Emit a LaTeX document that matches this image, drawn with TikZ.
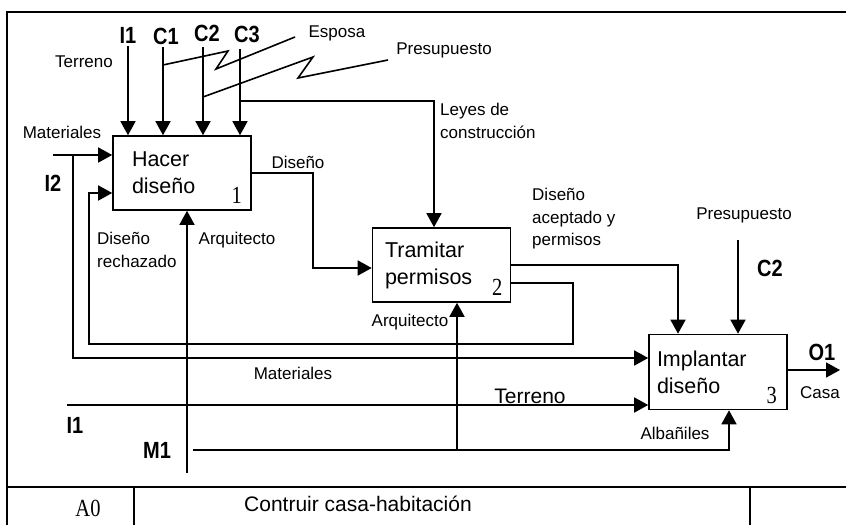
\documentclass[tikz,border=0pt]{standalone}
\usepackage{fontspec}
\usepackage{graphicx}
\setmainfont{Liberation Sans}
\newfontfamily\numfont{Liberation Serif}
\usetikzlibrary{arrows.meta}

% tall glyphs, as in the original drawing
\newcommand{\tallcode}[1]{\scalebox{1}[1.17]{#1}}
\newcommand{\tallnum}[1]{\scalebox{1}[1.2]{#1}}

\tikzset{
  flow/.style={line width=1.6pt, -{Triangle[length=14pt,width=15pt]}},
  wire/.style={line width=1.6pt},
  frameline/.style={line width=1.8pt},
  actbox/.style={draw, line width=1.6pt, minimum width=138pt, minimum height=74pt,
    text width=100pt, align=left, inner sep=0pt, font=\fontsize{21.5}{27}\selectfont},
  numtxt/.style={font=\numfont\fontsize{20.5}{22}\selectfont, inner sep=0pt},
  lbl/.style={font=\fontsize{17}{22.5}\selectfont, inner sep=0pt, align=left},
  code/.style={font=\bfseries\fontsize{20}{22}\selectfont, inner sep=0pt},
}

\begin{document}
\begin{tikzpicture}[x=1pt,y=-1pt]
\useasboundingbox (0,0) rectangle (846,525);

% Frame and title block
\draw[frameline] (7,525) -- (7,12) -- (846,12);
\draw[frameline] (7,487) -- (846,487);
\draw[frameline] (134,487) -- (134,525);
\draw[frameline] (750,487) -- (750,525);
\node[numtxt] (nodeid) at (88,508) {\tallnum{A0}};
\node[font=\fontsize{21}{24}\selectfont, inner sep=0pt] (title) at (358,504) {Contruir casa-habitación};

% Activity boxes
\node[actbox] (hacer) at (182,173) {Hacer\\diseño};
\node[actbox, text width=113pt] (tramitar) at (441.5,265) {Tramitar\\permisos};
\node[actbox, text width=122pt, minimum height=75pt] (implantar) at (718,372) {Implantar\\diseño};
\node[numtxt] (num1) at ([xshift=-15pt,yshift=15pt]hacer.south east) {\tallnum{1}};
\node[numtxt] (num2) at ([xshift=-14pt,yshift=15pt]tramitar.south east) {\tallnum{2}};
\node[numtxt] (num3) at ([xshift=-16pt,yshift=15pt]implantar.south east) {\tallnum{3}};

% Codes
\node[code] (i1top) at (128,35) {\tallcode{I1}};
\node[code] (c1top) at (166,36) {\tallcode{C1}};
\node[code] (c2top) at (207,33) {\tallcode{C2}};
\node[code] (c3top) at (247,34) {\tallcode{C3}};
\node[code] (i2) at (53,183) {\tallcode{I2}};
\node[code] (i1low) at (75,425) {\tallcode{I1}};
\node[code] (m1) at (157,450) {\tallcode{M1}};
\node[code] (c2right) at (770,268) {\tallcode{C2}};
\node[code] (o1) at (822,352) {\tallcode{O1}};

% Arrow labels
\node[lbl] (terrenotop) at (84,62) {Terreno};
\node[lbl] (materialestop) at (62,132) {Materiales};
\node[lbl] (esposa) at (337,33) {Esposa};
\node[lbl] (presupuestotop) at (444,50) {Presupuesto};
\node[lbl, anchor=west] (leyes) at (440,121) {Leyes de\\construcción};
\node[lbl] (diseno) at (298,162) {Diseño};
\node[lbl, anchor=west] (rechazado) at (97,250) {Diseño\\rechazado};
\node[lbl] (arquitecto1) at (237,240) {Arquitecto};
\node[lbl, anchor=west] (aceptado) at (532,219) {Diseño\\aceptado y\\permisos};
\node[lbl] (presupuestoright) at (744,215) {Presupuesto};
\node[lbl] (arquitecto2) at (410,322) {Arquitecto};
\node[lbl] (materialeslow) at (293,373) {Materiales};
\node[font=\fontsize{21}{24}\selectfont, inner sep=0pt] (terrenolow) at (530,396) {Terreno};
\node[lbl] (albaniles) at (675,433) {Albañiles};
\node[lbl] (casa) at (820,393) {Casa};

% Connector ends
\coordinate (i1a) at (128,46);
\coordinate (c1a) at (163,47);
\coordinate (c2a) at (203,47);
\coordinate (c3a) at (240,49);
\coordinate (c1j) at (163,65);
\coordinate (esposaend) at (295,37);
\coordinate (c2j) at (203,97);
\coordinate (presend) at (388,60);
\coordinate (c3j) at (240,101);
\coordinate (leyesj) at (434,101);
\coordinate (mata) at (53,155);
\coordinate (matb) at (73,155);
\coordinate (rechj) at (573,344);
\coordinate (rechk) at (89,344);
\coordinate (presb) at (738,240);
\coordinate (terb) at (67,405);
\coordinate (casaend) at (840,370);
\coordinate (m1v) at (187,473);
\coordinate (m1a) at (193,450);
\coordinate (m1b) at (729,450);
\coordinate (m1c) at (457,450);

% Inputs and controls of box 1
\draw[flow] (i1a) -- (i1a |- hacer.north);
\draw[flow] (c1a) -- (c1a |- hacer.north);
\draw[flow] (c2a) -- (c2a |- hacer.north);
\draw[flow] (c3a) -- (c3a |- hacer.north);
\draw[wire] (c1j) -- (228,51) -- (216,69) -- (esposaend);
\draw[wire] (c2j) -- (313,57) -- (298,78) -- (presend);
\draw[flow] (c3j) -- (leyesj) -- (leyesj |- tramitar.north);
\draw[flow] (mata) -- ([yshift=18pt]hacer.west);
\draw[flow] (matb) |- ([yshift=14pt]implantar.west);

% Box 1 to box 2 and feedback
\draw[flow] (hacer.east) -- ++(61,0) |- ([yshift=-3pt]tramitar.west);
\draw[flow] ([yshift=-18pt]tramitar.east) -| (rechj) -- (rechk) |- ([yshift=-20pt]hacer.west);

% Box 2 to box 3
\draw[flow] (tramitar.east) -| ([xshift=-40pt]implantar.north);
\draw[flow] (presb) -- (presb |- implantar.north);
\draw[flow] (terb) -- (terb -| implantar.west);
\draw[flow] (implantar.east |- casaend) -- (casaend);

% Mechanisms
\draw[flow] (m1v) -- (m1v |- hacer.south);
\draw[flow] (m1a) -- (m1b) -- (m1b |- implantar.south);
\draw[flow] (m1c) -- (m1c |- tramitar.south);
\end{tikzpicture}
\end{document}
